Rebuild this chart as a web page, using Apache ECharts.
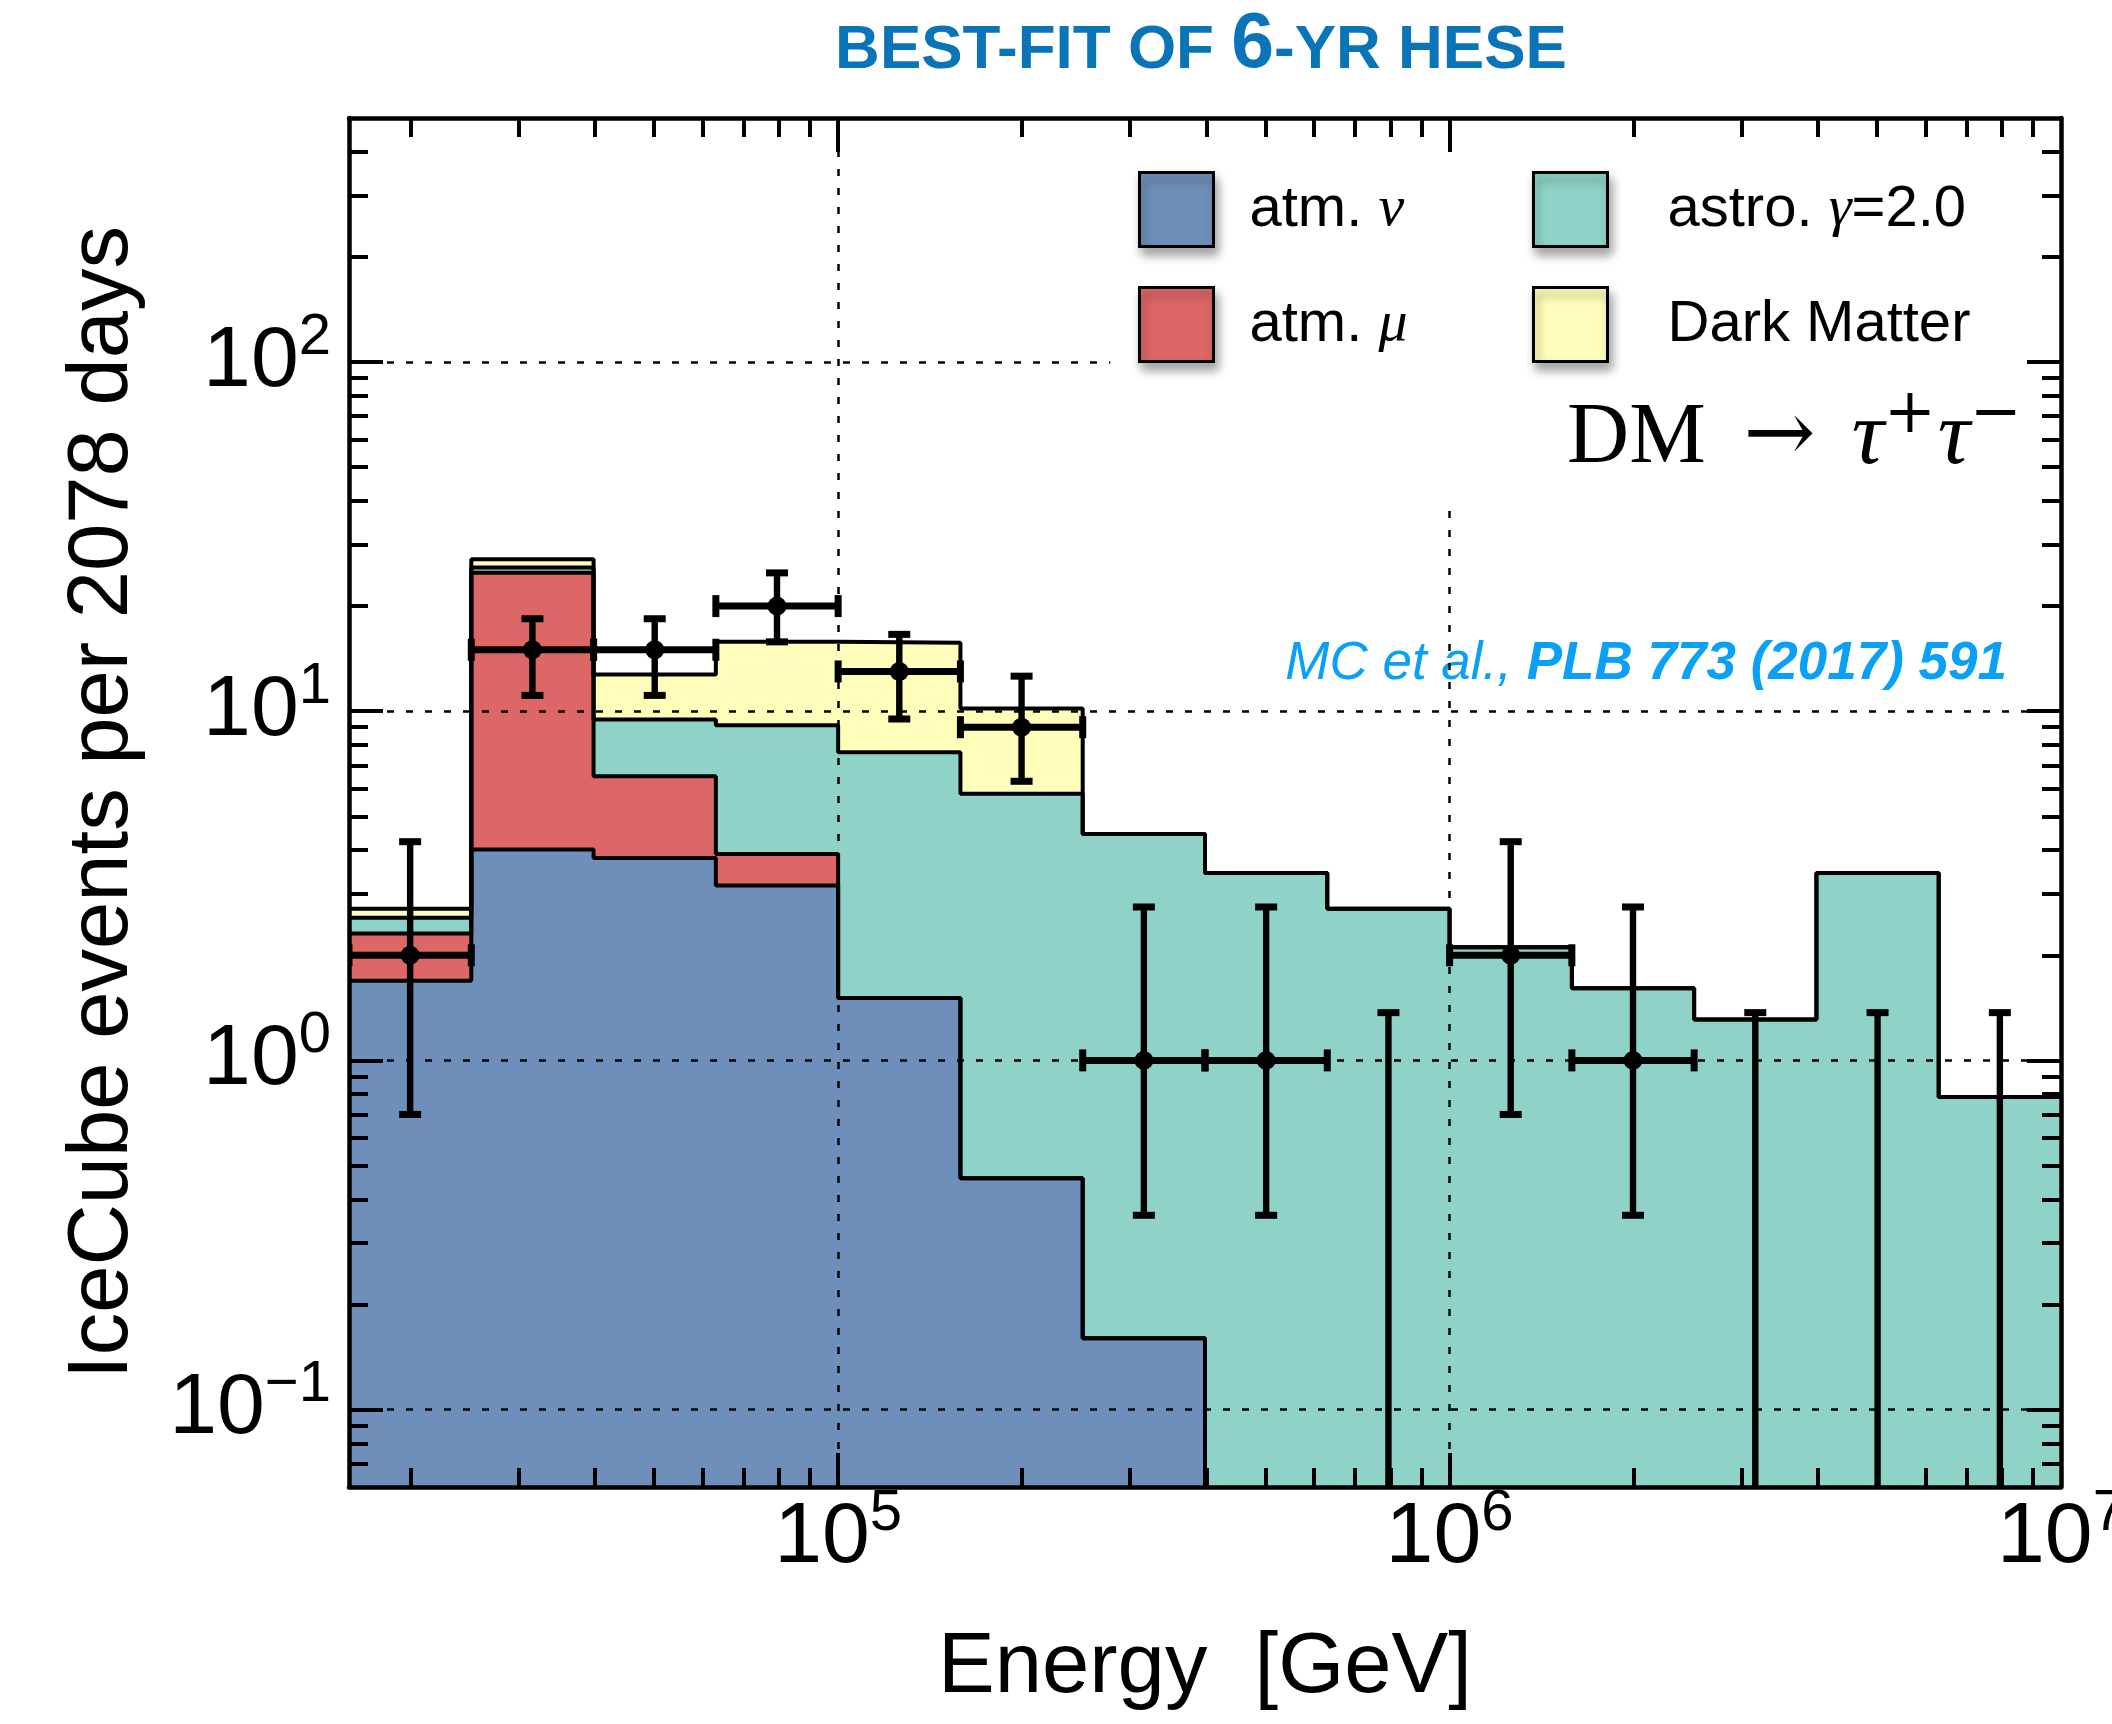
<!DOCTYPE html>
<html>
<head>
<meta charset="utf-8">
<title>Best-fit of 6-yr HESE</title>
<script src="https://cdn.jsdelivr.net/npm/echarts@6/dist/echarts.min.js"></script>
<style>
  html, body { margin: 0; padding: 0; background: #fff; }
  #chart { width: 2112px; height: 1724px; }
</style>
</head>
<body>
<div id="chart"></div>
<script>
// bin edges in log10(E / GeV)
const binEdges = [4.2, 4.4, 4.6, 4.8, 5.0, 5.2, 5.4, 5.6, 5.8, 6.0, 6.2, 6.4, 6.6, 6.8, 7.0];
// expected events per bin, one array per component (stacked bottom to top)
const atmNu = [1.69, 4.02, 3.80, 3.17, 1.51, 0.46, 0.16, 0, 0, 0, 0, 0, 0, 0];
const atmMu = [0.62, 20.9, 2.71, 0.73, 0, 0, 0, 0, 0, 0, 0, 0, 0, 0];
const astro = [0.25, 0.9, 2.96, 5.22, 6.12, 5.34, 4.29, 3.44, 2.72, 2.11, 1.61, 1.31, 3.44, 0.785];
const darkMatter = [0.16, 1.4, 3.27, 6.68, 8.07, 4.38, 0, 0, 0, 0, 0, 0, 0, 0];
// observed events with 68% intervals
const observed = [2, 15, 15, 20, 13, 9, 1, 1, 0, 2, 1, 0, 0, 0];
const errLow = [0.70, 11.1, 11.1, 15.8, 9.5, 6.3, 0.36, 0.36, 0, 0.70, 0.36, 0, 0, 0];
const errHigh = [4.23, 18.4, 18.4, 24.9, 16.6, 12.6, 2.75, 2.75, 1.37, 4.23, 2.75, 1.37, 1.37, 1.37];
// tick labels (powers of ten)
const xTickExp = [5, 6, 7];
const yTickExp = [-1, 0, 1, 2];

const SANS = '"Liberation Sans", Arial, Helvetica, sans-serif';
const SERIF = '"Liberation Serif", "Times New Roman", serif';
const colors = { nu: '#6e8fb9', mu: '#dd6666', astro: '#8fd3c8', dm: '#fefdb9' };

const lg = v => Math.log10(Math.max(v, 1e-3));
const xMin = binEdges[0], xMax = binEdges[binEdges.length - 1];
const yMin = Math.log10(0.06), yMax = Math.log10(500);

function minorTicks(k0, k1, lo, hi) {
  const out = [];
  for (let k = k0; k <= k1; k++) {
    for (let m = 2; m <= 9; m++) {
      const v = Math.log10(m * Math.pow(10, k));
      if (v > lo + 1e-6 && v < hi - 1e-6) out.push(v);
    }
  }
  return out;
}
const xMinor = minorTicks(4, 6, xMin, xMax);
const yMinor = minorTicks(-2, 2, yMin, yMax);

// cumulative tops of the stack
const add = (a, b) => a.map((v, i) => v + b[i]);
const topNu = atmNu;
const topMu = add(topNu, atmMu);
const topAstro = add(topMu, astro);
const topDm = add(topAstro, darkMatter);

function stepData(tops) {
  const pts = tops.map((v, i) => [binEdges[i], lg(v)]);
  pts.push([binEdges[tops.length], lg(tops[tops.length - 1])]);
  return pts;
}

function histSeries(name, color, tops) {
  return {
    name: name,
    type: 'line',
    step: 'end',
    data: stepData(tops),
    symbol: 'none',
    clip: true,
    z: 2,
    itemStyle: { color: color },
    lineStyle: { color: '#000', width: 4 },
    areaStyle: { color: color, opacity: 1, origin: 'start' }
  };
}

const expLabel = v => '{b|10}{s|' + (v < 0 ? '\u2212' + (-v) : v) + '}';
const labelRich = {
  b: { fontSize: 86, lineHeight: 86, fontFamily: SANS, color: '#000' },
  s: { fontSize: 58, lineHeight: 58, fontFamily: SANS, color: '#000', padding: [0, 0, 49, 0] }
};

function axis(dim, position, ticks, len, extra) {
  return Object.assign({
    type: 'value',
    position: position,
    min: dim === 'x' ? xMin : yMin,
    max: dim === 'x' ? xMax : yMax,
    z: 10,
    axisLine: { show: false, onZero: false },
    axisTick: { show: true, inside: true, length: len, customValues: ticks,
      lineStyle: { color: '#000', width: 4 } },
    axisLabel: { show: false },
    splitLine: { show: false }
  }, extra || {});
}
const frame = { show: true, onZero: false, lineStyle: { color: '#000', width: 4.5 } };

const errData = observed.map((n, i) => [
  (binEdges[i] + binEdges[i + 1]) / 2, lg(n), lg(errLow[i]), lg(errHigh[i]),
  binEdges[i], binEdges[i + 1], n
]);

const legendText = {
  'atm. ν': '{n|atm. }{g|ν}',
  'atm. μ': '{n|atm. }{g|μ}',
  'astro. γ=2.0': '{n|astro. }{g|γ}{n|=2.0}',
  'Dark Matter': '{n|Dark Matter}'
};
function legendCol(names, left, pad) {
  return {
    data: names.map(n => ({ name: n })),
    left: left, top: 171, orient: 'vertical', padding: 0,
    icon: 'rect', itemWidth: 74, itemHeight: 74, itemGap: 38,
    selectedMode: false,
    itemStyle: { borderColor: '#000', borderWidth: 3, shadowBlur: 10,
      shadowColor: 'rgba(0,0,0,0.35)', shadowOffsetX: 3, shadowOffsetY: 7 },
    formatter: name => legendText[name],
    textStyle: {
      padding: [0, 0, 0, pad],
      rich: {
        n: { fontSize: 58, fontFamily: SANS, color: '#000' },
        g: { fontSize: 58, fontFamily: SERIF, fontStyle: 'italic', color: '#000' }
      }
    }
  };
}

const chart = echarts.init(document.getElementById('chart'));
chart.setOption({
  animation: false,
  backgroundColor: '#fff',
  grid: { left: 349, right: 51, top: 118, bottom: 237, containLabel: false, outerBoundsMode: 'none' },
  legend: [
    legendCol(['atm. ν', 'atm. μ'], 1138, 31),
    legendCol(['astro. γ=2.0', 'Dark Matter'], 1532, 55)
  ],
  xAxis: [
    axis('x', 'bottom', xTickExp.slice(0, 2), 34, {
      axisLine: frame,
      axisLabel: { show: true, customValues: xTickExp, margin: 8, formatter: expLabel, rich: labelRich },
      name: 'Energy  [GeV]', nameLocation: 'middle', nameGap: 139,
      nameTextStyle: { fontSize: 85, fontFamily: SANS, color: '#000' }
    }),
    axis('x', 'bottom', xMinor, 19),
    axis('x', 'top', xTickExp.slice(0, 2), 34, { axisLine: frame }),
    axis('x', 'top', xMinor, 19)
  ],
  yAxis: [
    axis('y', 'left', yTickExp, 34, {
      axisLine: frame,
      axisLabel: { show: true, customValues: yTickExp, margin: 18, formatter: expLabel, rich: labelRich },
      name: 'IceCube events per 2078 days', nameLocation: 'middle', nameGap: 203,
      nameTextStyle: { fontSize: 85, fontFamily: SANS, color: '#000' }
    }),
    axis('y', 'left', yMinor, 19),
    axis('y', 'right', yTickExp, 34, { axisLine: frame }),
    axis('y', 'right', yMinor, 19)
  ],
  series: [
    histSeries('Dark Matter', colors.dm, topDm),
    histSeries('astro. γ=2.0', colors.astro, topAstro),
    histSeries('atm. μ', colors.mu, topMu),
    histSeries('atm. ν', colors.nu, topNu),
    {
      // dotted grid lines drawn over the fills
      type: 'line', data: [], silent: true,
      markLine: {
        silent: true, symbol: ['none', 'none'], animation: false,
        label: { show: false },
        lineStyle: { color: '#000', width: 2.5, type: [7, 12] },
        data: [
          { yAxis: -1 }, { yAxis: 0 }, { yAxis: 1 },
          [{ coord: [xMin, 2] }, { coord: [5.445, 2] }],
          { xAxis: 5 },
          [{ coord: [6, yMin] }, { coord: [6, 1.58] }]
        ]
      }
    },
    {
      type: 'custom',
      z: 6,
      clip: true,
      data: errData,
      encode: { x: [0, 4, 5], y: [1, 2, 3] },
      renderItem: function (params, api) {
        const n = api.value(6);
        const xc = api.value(0);
        const c = api.coord([xc, api.value(1)]);
        const lo = api.coord([xc, api.value(2)]);
        const hi = api.coord([xc, api.value(3)]);
        const l = api.coord([api.value(4), api.value(1)]);
        const r = api.coord([api.value(5), api.value(1)]);
        const st = { fill: '#000' };
        const kids = [
          { type: 'rect', shape: { x: hi[0] - 3.2, y: hi[1], width: 6.4, height: lo[1] - hi[1] }, style: st },
          { type: 'rect', shape: { x: hi[0] - 11, y: hi[1] - 3.5, width: 22, height: 7 }, style: st },
          { type: 'rect', shape: { x: lo[0] - 11, y: lo[1] - 3.5, width: 22, height: 7 }, style: st }
        ];
        if (n > 0) {
          kids.push(
            { type: 'rect', shape: { x: l[0], y: c[1] - 3.5, width: r[0] - l[0], height: 7 }, style: st },
            { type: 'rect', shape: { x: l[0] - 3.5, y: c[1] - 11, width: 7, height: 22 }, style: st },
            { type: 'rect', shape: { x: r[0] - 3.5, y: c[1] - 11, width: 7, height: 22 }, style: st },
            { type: 'circle', shape: { cx: c[0], cy: c[1], r: 9.5 }, style: st }
          );
        }
        return { type: 'group', children: kids };
      }
    }
  ],
  graphic: [
    {
      type: 'text', x: 1201, y: 51,
      style: {
        text: '{a|BEST-FIT OF }{b|6}{a|-YR HESE}',
        align: 'center', verticalAlign: 'middle',
        rich: {
          a: { fontSize: 62, fontWeight: 'bold', fontFamily: SANS, fill: '#0a74b8' },
          b: { fontSize: 77, fontWeight: 'bold', fontFamily: SANS, fill: '#0a74b8', padding: [0, 0, 10, 0] }
        }
      }
    },
    {
      type: 'text', x: 2024, y: 439,
      style: {
        text: '{r|DM}{a|\u2192}{i|τ}{s|+}{i|τ}{s|\u2212}',
        align: 'right', verticalAlign: 'middle',
        rich: {
          r: { fontSize: 86, fontFamily: SERIF, fill: '#000' },
          a: { fontSize: 86, fontFamily: '"DejaVu Serif", serif', fill: '#000', padding: [0, 36, 0, 38] },
          i: { fontSize: 90, fontFamily: SERIF, fontStyle: 'italic', fill: '#000' },
          s: { fontSize: 62, fontFamily: '"DejaVu Serif", serif', fill: '#000', padding: [0, 2, 46, 0] }
        }
      }
    },
    {
      type: 'text', x: 2007, y: 664,
      style: {
        text: '{i|MC et al., }{b|PLB 773 (2017) 591}',
        align: 'right', verticalAlign: 'middle',
        rich: {
          i: { fontSize: 53, fontStyle: 'italic', fontFamily: SANS, fill: '#0aa0f5' },
          b: { fontSize: 53, fontStyle: 'italic', fontWeight: 'bold', fontFamily: SANS, fill: '#0aa0f5' }
        }
      }
    }
  ]
});
</script>
</body>
</html>
